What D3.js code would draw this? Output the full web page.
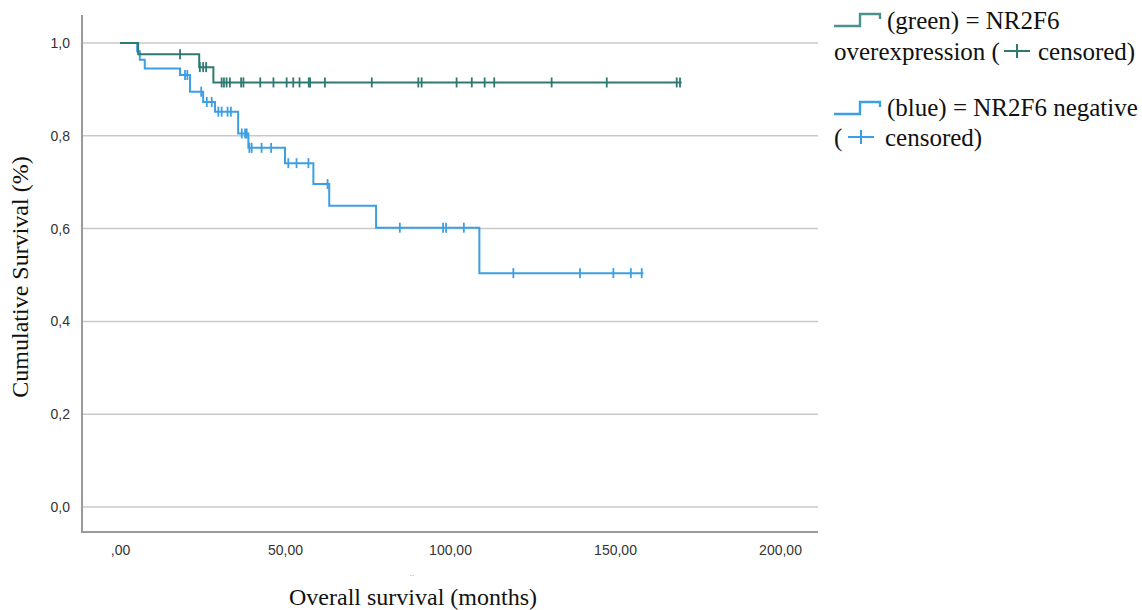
<!DOCTYPE html>
<html>
<head>
<meta charset="utf-8">
<script src="https://cdn.jsdelivr.net/npm/d3@7"></script>
<style>
  body { margin: 0; background: #fff; }
  svg { display: block; }
  .tick text { font-family: "Liberation Sans", Arial, sans-serif; font-size: 14px; fill: #333; }
  .serif { font-family: "Liberation Serif", "Times New Roman", serif; fill: #111; }
</style>
</head>
<body>
<div id="chart"></div>
<script>
// NR2F6 overexpression (green)
const greenEventTimes = [5.5, 24.0, 28.3];
const greenSurvival = [0.976, 0.948, 0.915];
const greenCensored = [18.2, 24.2, 25.2, 26.1, 30.8, 31.5, 32.3, 33.3, 36.7, 37.4, 42.5, 46.5,
  50.5, 52.5, 54.4, 57.2, 57.6, 62.1, 76.3, 90.4, 91.4, 102.0, 106.6, 110.5, 113.4,
  130.8, 147.5, 168.7, 169.7];
const greenEnd = 170.2;

// NR2F6 negative (blue)
const blueEventTimes = [5.2, 6.0, 7.5, 18.2, 21.2, 25.2, 28.8, 35.8, 38.9, 50.0, 58.6, 63.4, 77.6, 108.9];
const blueSurvival = [0.982, 0.964, 0.945, 0.931, 0.895, 0.873, 0.852, 0.805, 0.774, 0.741, 0.696, 0.649, 0.602, 0.504];
const blueCensored = [19.7, 20.4, 24.6, 26.3, 27.8, 29.8, 30.8, 32.6, 33.6, 36.9, 37.9, 38.4, 39.2, 39.9,
  42.9, 45.8, 51.0, 53.5, 57.1, 62.9, 84.8, 97.9, 98.8, 104.2, 119.2, 139.4, 149.5, 154.8, 158.1];
const blueEnd = 158.6;

const xTicks = [0, 50, 100, 150, 200];
const yTicks = [0, 0.2, 0.4, 0.6, 0.8, 1.0];

const width = 1142, height = 610;
const frame = { left: 82, right: 818, top: 15, bottom: 532 };
const greenColor = '#2e7a72', blueColor = '#3d9fe3';

const svg = d3.select('#chart').append('svg')
  .attr('width', width)
  .attr('height', height);

const x = d3.scaleLinear().domain([0, 200]).range([120, 780]);
const y = d3.scaleLinear().domain([0, 1]).range([507, 43]);

// gridlines
svg.append('g')
  .selectAll('line')
  .data(yTicks)
  .join('line')
  .attr('x1', frame.left).attr('x2', frame.right)
  .attr('y1', d => y(d)).attr('y2', d => y(d))
  .attr('stroke', '#c9c9c9')
  .attr('stroke-width', 1.5);

// axes
const yAxis = svg.append('g')
  .attr('transform', `translate(${frame.left},0)`)
  .call(d3.axisLeft(y).tickValues(yTicks).tickSize(0).tickPadding(12)
    .tickFormat(d => d.toFixed(1).replace('.', ',')));
yAxis.select('.domain').remove();

const xAxis = svg.append('g')
  .attr('transform', `translate(0,${frame.bottom})`)
  .call(d3.axisBottom(x).tickValues(xTicks).tickSize(0).tickPadding(13)
    .tickFormat(d => d === 0 ? ',00' : d.toFixed(2).replace('.', ',')));
xAxis.select('.domain').remove();

svg.append('path')
  .attr('d', `M${frame.left},${frame.top}V${frame.bottom}H${frame.right}`)
  .attr('fill', 'none')
  .attr('stroke', '#9a9a9a')
  .attr('stroke-width', 2);

// survival curves
function stepPoints(times, surv, end) {
  const pts = [[0, 1]];
  times.forEach((t, i) => pts.push([t, surv[i]]));
  pts.push([end, surv[surv.length - 1]]);
  return pts;
}
function survAt(times, surv, t) {
  let s = 1;
  times.forEach((tt, i) => { if (tt <= t) s = surv[i]; });
  return s;
}

const line = d3.line()
  .x(d => x(d[0]))
  .y(d => y(d[1]))
  .curve(d3.curveStepAfter);

function drawGroup(times, surv, end, censored, color) {
  const g = svg.append('g');
  g.append('path')
    .datum(stepPoints(times, surv, end))
    .attr('d', line)
    .attr('fill', 'none')
    .attr('stroke', color)
    .attr('stroke-width', 2);
  g.selectAll('line')
    .data(censored)
    .join('line')
    .attr('x1', d => x(d)).attr('x2', d => x(d))
    .attr('y1', d => y(survAt(times, surv, d)) - 5)
    .attr('y2', d => y(survAt(times, surv, d)) + 5)
    .attr('stroke', color)
    .attr('stroke-width', 1.8);
}
drawGroup(blueEventTimes, blueSurvival, blueEnd, blueCensored, blueColor);
drawGroup(greenEventTimes, greenSurvival, greenEnd, greenCensored, greenColor);

// axis titles
svg.append('text')
  .attr('class', 'serif')
  .attr('transform', 'translate(28,277) rotate(-90)')
  .attr('text-anchor', 'middle')
  .style('font-size', '24px')
  .text('Cumulative Survival (%)');

svg.append('text')
  .attr('class', 'serif')
  .attr('x', 413).attr('y', 605)
  .attr('text-anchor', 'middle')
  .style('font-size', '24px')
  .text('Overall survival (months)');

svg.append('text')
  .attr('x', 412).attr('y', 576)
  .attr('text-anchor', 'middle')
  .style('font-size', '9px')
  .style('fill', '#999')
  .text('..');

// legend
function legendIcon(x0, y0, color) {
  svg.append('path')
    .attr('d', `M${x0},${y0 + 12}H${x0 + 26}V${y0}H${x0 + 46}V${y0 + 5}`)
    .attr('fill', 'none')
    .attr('stroke', color)
    .attr('stroke-width', 2.4);
}
function legendPlus(cx, cy, color) {
  svg.append('path')
    .attr('d', `M${cx - 13},${cy}H${cx + 13}M${cx},${cy - 7}V${cy + 7}`)
    .attr('fill', 'none')
    .attr('stroke', color)
    .attr('stroke-width', 2);
}
const legendText = (tx, ty, s) => svg.append('text')
  .attr('class', 'serif')
  .attr('x', tx).attr('y', ty)
  .style('font-size', '25px')
  .text(s);

legendIcon(834, 14, '#4a928b');
legendText(887, 29, '(green) = NR2F6');
legendText(834, 60, 'overexpression (');
legendPlus(1017, 51, greenColor);
legendText(1038, 60, 'censored)');

legendIcon(834, 102, '#3d9fe3');
legendText(887, 116, '(blue) = NR2F6 negative');
legendText(834, 146, '(');
legendPlus(861, 137, blueColor);
legendText(885, 146, 'censored)');
</script>
</body>
</html>
